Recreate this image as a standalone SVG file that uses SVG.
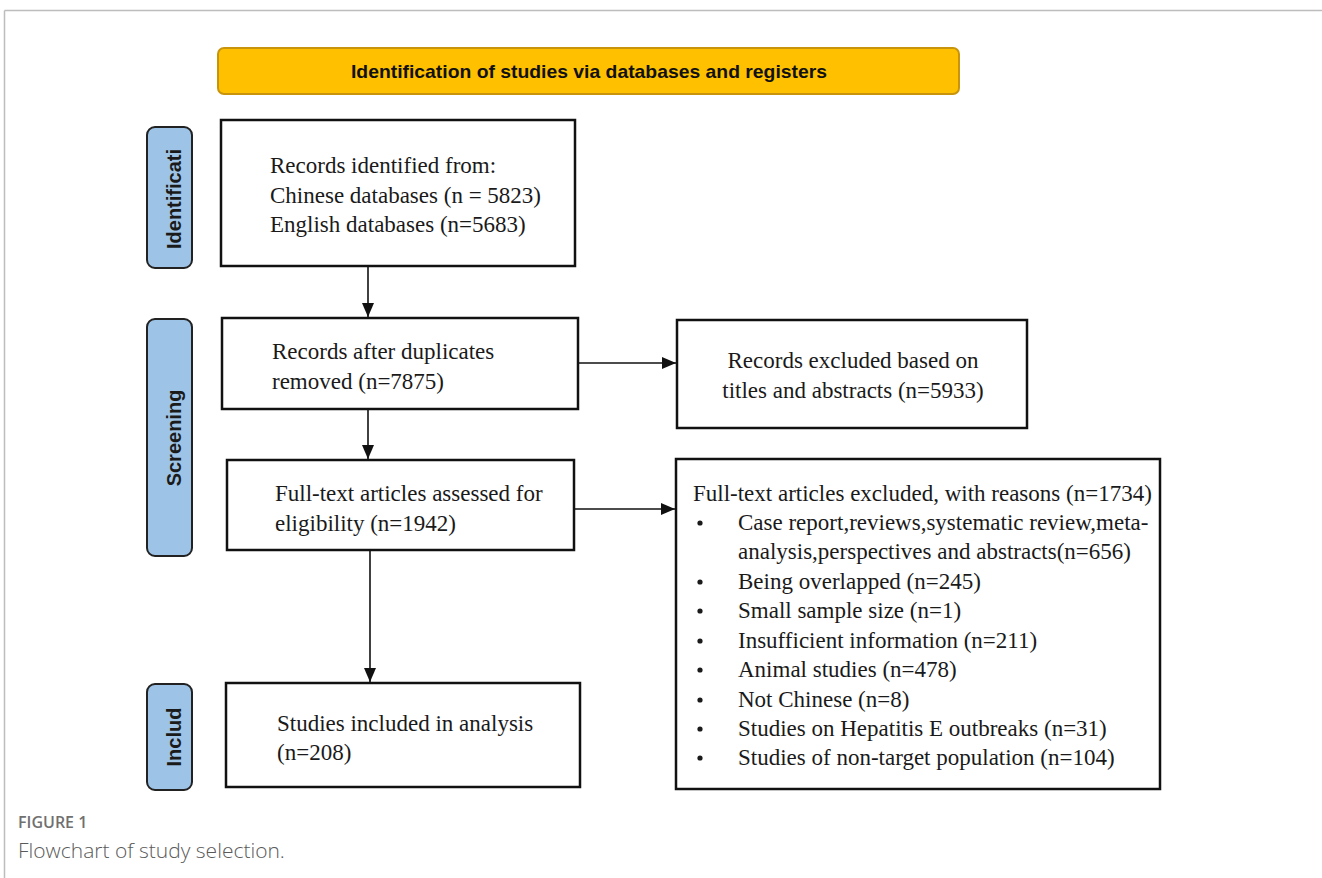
<svg xmlns="http://www.w3.org/2000/svg" width="1322" height="878" viewBox="0 0 1322 878">
<defs>
<style>
.box{fill:#fff;stroke:#111;stroke-width:2.5}
.side{fill:#9dc3e6;stroke:#222;stroke-width:2}
.side-t{font-family:"Liberation Sans",Arial,sans-serif;font-weight:bold;font-size:20px;fill:#1a1a1a;text-anchor:middle}
.t{font-family:"Liberation Serif","Times New Roman",serif;font-size:23px;fill:#1a1a1a}
.conn{stroke:#111;stroke-width:1.6;fill:none}
</style>
<marker id="ah2" viewBox="0 0 14 14" refX="14" refY="7" markerWidth="14" markerHeight="14" markerUnits="userSpaceOnUse" orient="auto">
<path d="M0,1 L14,7 L0,13 Z" fill="#111"/>
</marker>
</defs>
<rect width="1322" height="878" fill="#fff"/>
<g id="frame">
<line x1="4.5" y1="10.5" x2="1322" y2="10.5" stroke="#bdbdbd" stroke-width="1.5"/>
<line x1="4.5" y1="10.5" x2="4.5" y2="878" stroke="#bdbdbd" stroke-width="1.5"/>
</g>
<g id="banner">
<rect x="218" y="48" width="741" height="46" rx="6" fill="#ffc000" stroke="#c8940c" stroke-width="2"/>
<text x="589" y="78" font-family="Liberation Sans,Arial,sans-serif" font-weight="bold" font-size="19" fill="#111" text-anchor="middle" textLength="476" lengthAdjust="spacingAndGlyphs">Identification of studies via databases and registers</text>
</g>
<g id="label-identification">
<rect class="side" x="147" y="127" width="45" height="141" rx="8"/>
<text class="side-t" transform="translate(181,199) rotate(-90)">Identificati</text>
</g>
<g id="label-screening">
<rect class="side" x="147" y="319" width="45" height="237" rx="8"/>
<text class="side-t" transform="translate(181,438) rotate(-90)">Screening</text>
</g>
<g id="label-included">
<rect class="side" x="147" y="684" width="45" height="106" rx="8"/>
<text class="side-t" transform="translate(181,737) rotate(-90)">Includ</text>
</g>
<g id="node-identified">
<rect class="box" x="221" y="120" width="354" height="146"/>
<text class="t" x="270" y="173">Records identified from:</text>
<text class="t" x="270" y="203">Chinese databases (n = 5823)</text>
<text class="t" x="270" y="232">English databases (n=5683)</text>
</g>
<g id="node-dedup">
<rect class="box" x="222" y="318" width="356" height="91"/>
<text class="t" x="272" y="359">Records after duplicates</text>
<text class="t" x="272" y="389">removed (n=7875)</text>
</g>
<g id="node-excluded-ta">
<rect class="box" x="677" y="320" width="350" height="108"/>
<text class="t" x="853" y="368" text-anchor="middle">Records excluded based on</text>
<text class="t" x="853" y="398" text-anchor="middle">titles and abstracts (n=5933)</text>
</g>
<g id="node-fulltext">
<rect class="box" x="227" y="460" width="347" height="90"/>
<text class="t" x="275" y="501">Full-text articles assessed for</text>
<text class="t" x="275" y="531">eligibility (n=1942)</text>
</g>
<g id="node-excluded-ft">
<rect class="box" x="676" y="459" width="484" height="330"/>
<text class="t" x="693" y="501">Full-text articles excluded, with reasons (n=1734)</text>
<g fill="#1a1a1a">
<circle cx="700" cy="523" r="2.6"/>
<circle cx="700" cy="582" r="2.6"/>
<circle cx="700" cy="611" r="2.6"/>
<circle cx="700" cy="641" r="2.6"/>
<circle cx="700" cy="670" r="2.6"/>
<circle cx="700" cy="700" r="2.6"/>
<circle cx="700" cy="729" r="2.6"/>
<circle cx="700" cy="758" r="2.6"/>
</g>
<text class="t" x="738" y="530">Case report,reviews,systematic review,meta-</text>
<text class="t" x="738" y="559">analysis,perspectives and abstracts(n=656)</text>
<text class="t" x="738" y="589">Being overlapped (n=245)</text>
<text class="t" x="738" y="618">Small sample size (n=1)</text>
<text class="t" x="738" y="648">Insufficient information (n=211)</text>
<text class="t" x="738" y="677">Animal studies (n=478)</text>
<text class="t" x="738" y="707">Not Chinese (n=8)</text>
<text class="t" x="738" y="736">Studies on Hepatitis E outbreaks (n=31)</text>
<text class="t" x="738" y="765">Studies of non-target population (n=104)</text>
</g>
<g id="node-included">
<rect class="box" x="226" y="683" width="354" height="104"/>
<text class="t" x="277" y="731">Studies included in analysis</text>
<text class="t" x="277" y="760">(n=208)</text>
</g>
<g id="connectors">
<line class="conn" x1="368" y1="267" x2="368" y2="317" marker-end="url(#ah2)"/>
<line class="conn" x1="368" y1="410" x2="368" y2="459" marker-end="url(#ah2)"/>
<line class="conn" x1="370" y1="551" x2="370" y2="682" marker-end="url(#ah2)"/>
<line class="conn" x1="579" y1="363" x2="676" y2="363" marker-end="url(#ah2)"/>
<line class="conn" x1="575" y1="509" x2="675" y2="509" marker-end="url(#ah2)"/>
</g>
<g id="caption">
<text x="18" y="828" font-family="Open Sans,Liberation Sans,sans-serif" font-weight="600" font-size="16" fill="#707070">FIGURE 1</text>
<text x="18" y="858" font-family="Open Sans,Liberation Sans,sans-serif" font-weight="300" font-size="21" fill="#5a5a5a">Flowchart of study selection.</text>
</g>
</svg>
